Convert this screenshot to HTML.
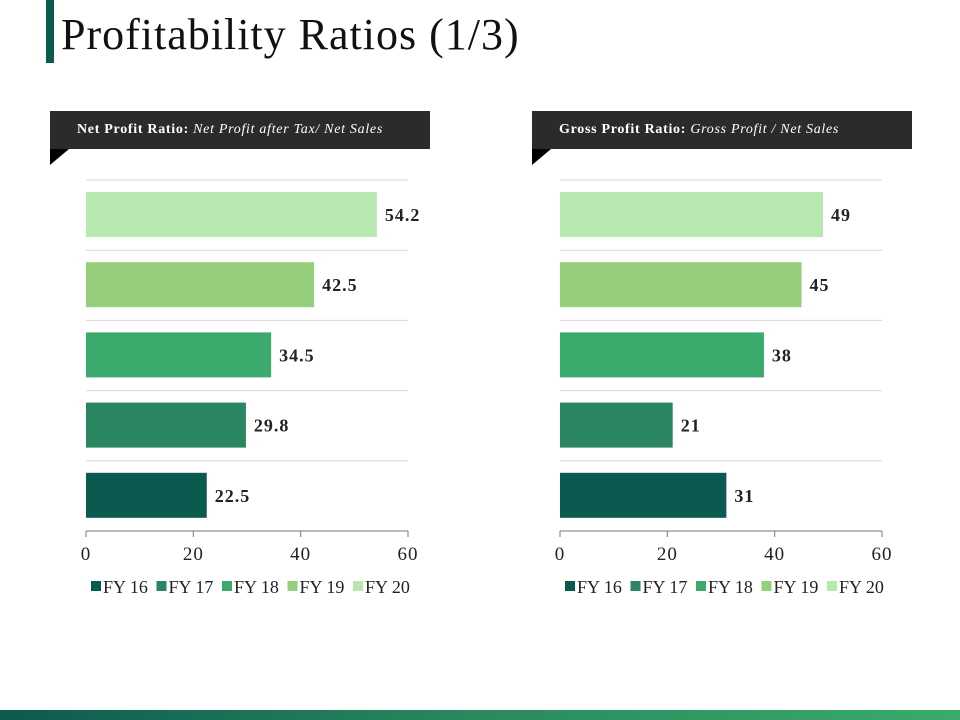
<!DOCTYPE html>
<html><head><meta charset="utf-8">
<style>
body{margin:0;width:960px;height:720px;background:#fff;overflow:hidden;position:relative;font-family:"Liberation Serif",serif}
.title-bar{position:absolute;left:46px;top:0;width:8px;height:63px;background:#0a5a50}
h1{position:absolute;left:61px;top:9px;margin:0;font-weight:normal;font-size:44px;letter-spacing:1px;color:#111;font-family:"Liberation Serif",serif}
.hdr{position:absolute;top:111px;width:380px;height:38px;background:#2b2b2b;color:#fff;font-size:14px;letter-spacing:0.7px;line-height:38px;box-sizing:border-box;padding-left:27px;white-space:nowrap}
.notch{position:absolute;top:149px;width:0;height:0;border-top:16px solid #000;border-left:19px solid transparent;}
.bottom{position:absolute;left:0;top:710px;width:960px;height:10px;background:linear-gradient(90deg,#0c5a50,#2a8a5e 50%,#3aab6c)}
</style></head><body>
<div class="title-bar"></div>
<h1>Profitability Ratios (1/3)</h1>
<div class="hdr" style="left:50px"><b>Net Profit Ratio:</b> <i>Net Profit after Tax/ Net Sales</i></div>
<div class="notch" style="left:50px;transform:scaleX(-1)"></div>
<div class="hdr" style="left:532px;width:380px"><b>Gross Profit Ratio:</b> <i>Gross Profit / Net Sales</i></div>
<div class="notch" style="left:532px;transform:scaleX(-1)"></div>
<svg id="chart" width="960" height="720" style="position:absolute;left:0;top:0"></svg>
<div class="bottom"></div>
<script>
const categories=["FY 16","FY 17","FY 18","FY 19","FY 20"];
const netProfit=[22.5,29.8,34.5,42.5,54.2];
const netLabels=["22.5","29.8","34.5","42.5","54.2"];
const grossProfit=[31,21,38,45,49];
const grossLabels=["31","21","38","45","49"];
const ticks=[0,20,40,60];
const colors=["#0a5a50","#2a8660","#3aab6c","#95cf7c","#b7e8b0"];
const NS="http://www.w3.org/2000/svg";
const svg=document.getElementById('chart');
function mk(t,a){const e=document.createElementNS(NS,t);for(const k in a)e.setAttribute(k,a[k]);svg.appendChild(e);return e;}
function draw(x0,vals,labels,prefix){
  const x1=x0+322,top=180,bottom=531,band=(bottom-top)/5;
  const xs=v=>x0+(v/60)*(x1-x0);
  for(let i=0;i<5;i++){const g=mk('line',{x1:x0,x2:x1,y1:top+i*band,y2:top+i*band,stroke:'#d9d9d9','stroke-width':1});
    
    }
  const ax=mk('line',{x1:x0,x2:x1,y1:bottom,y2:bottom,stroke:'#777','stroke-width':1});
  
  
  ticks.forEach(t=>{const l=mk('line',{x1:xs(t),x2:xs(t),y1:bottom,y2:bottom+6,stroke:'#777'});
    
    
    const tx=mk('text',{x:xs(t),y:bottom+29,'text-anchor':'middle','font-size':19,'letter-spacing':1,fill:'#222','font-family':'Liberation Serif, serif'});
    tx.textContent=t;
    
    });
  vals.forEach((v,i)=>{const row=4-i;const y=top+row*band+12;
    const r=mk('rect',{x:x0,y:y,width:xs(v)-x0,height:45,fill:colors[i]});
    
    
    const tx=mk('text',{x:xs(v)+8,y:y+29,'font-size':18,'letter-spacing':1,'font-weight':'bold',fill:'#222','font-family':'Liberation Serif, serif'});
    tx.textContent=labels[i];
    
    });
  let lx=x0+5;
  categories.forEach((c,i)=>{const s=mk('rect',{x:lx,y:581,width:10,height:10,fill:colors[i]});
    
    
    const tx=mk('text',{x:lx+12,y:593,'font-size':18,fill:'#222','font-family':'Liberation Serif, serif'});
    tx.textContent=c;
    
    
    lx+=65.5;});
}
draw(86,netProfit,netLabels,'net-profit');
draw(560,grossProfit,grossLabels,'gross-profit');
</script>
</body></html>
